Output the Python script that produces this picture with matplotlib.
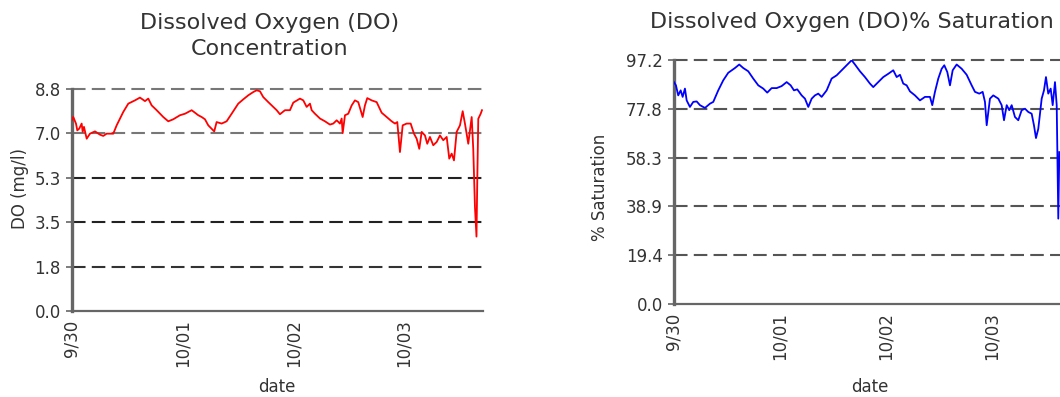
import matplotlib
matplotlib.use('Agg')
import matplotlib.pyplot as plt

# hours since 9/30 00:00, DO concentration (mg/l)
do_hours = [0, 0.28, 0.87, 1.15, 1.58, 2.10, 2.32, 2.60, 3.19, 3.90, 4.99, 6.07, 6.79, 7.52, 8.95,
            9.69, 11.12, 12.21, 13.66, 14.74, 15.83, 16.54, 17.28, 18.36, 19.79, 20.88, 21.96,
            23.41, 24.50, 25.95, 26.67, 27.38, 28.12, 28.83, 29.55, 30.84, 31.36, 32.45, 33.53,
            34.62, 36.05, 37.14, 38.22, 39.31, 40.04, 40.76, 41.47, 42.56, 43.64, 44.38, 45.09,
            46.18, 47.26, 47.98, 49.43, 50.15, 50.88, 51.60, 51.97, 52.68, 53.77, 54.85, 55.93,
            56.65, 57.39, 58.10, 58.47, 58.69, 59.19, 59.90, 60.64, 61.35, 62.07, 63.02, 63.52,
            64.02, 64.97, 66.06, 67.14, 68.23, 69.31, 70.03, 70.53, 71.11, 71.70, 72.56, 73.43,
            74.15, 74.73, 75.30, 75.82, 76.53, 77.03, 77.61, 78.33, 79.07, 79.78, 80.50, 81.24,
            81.80, 82.32, 82.82, 83.40, 84.12, 84.71, 85.20, 85.92, 86.66, 87.00, 87.37, 87.70,
            87.87, 88.09, 88.61, 88.89]
do_mgl = [7.57, 7.69, 7.43, 7.16, 7.23, 7.43, 7.10, 7.30, 6.83, 7.03, 7.12, 6.99, 6.94, 7.03, 7.03,
          7.36, 7.89, 8.22, 8.35, 8.46, 8.32, 8.42, 8.15, 7.96, 7.69, 7.52, 7.60,
          7.76, 7.82, 7.96, 7.86, 7.76, 7.69, 7.60, 7.36, 7.12, 7.49, 7.43, 7.52,
          7.82, 8.22, 8.39, 8.55, 8.68, 8.75, 8.71, 8.48, 8.28, 8.09, 7.96, 7.80,
          7.96, 7.96, 8.26, 8.42, 8.35, 8.09, 8.22, 7.96, 7.82, 7.63, 7.52, 7.39,
          7.43, 7.56, 7.43, 7.63, 7.05, 7.76, 7.82, 8.15, 8.35, 8.28, 7.69, 8.15,
          8.44, 8.35, 8.28, 7.86, 7.69, 7.52, 7.43, 7.49, 6.30, 7.36, 7.43, 7.43,
          7.03, 6.83, 6.43, 7.10, 6.96, 6.63, 6.90, 6.57, 6.70, 6.96, 6.77, 6.90,
          6.04, 6.24, 5.97, 7.10, 7.36, 7.92, 7.43, 6.63, 7.69, 6.43, 4.12, 2.95,
          5.11, 7.62, 7.82, 7.96]

# hours since 9/30 00:00, DO % saturation
sat_hours = [0, 0.45, 0.97, 1.52, 1.97, 2.49, 2.88, 3.62, 4.37, 5.14, 5.89, 7.02, 8.15, 8.90,
             10.03, 11.16, 12.29, 13.81, 14.78, 15.69, 16.82, 17.95, 19.09, 20.22, 21.12, 22.12,
             23.25, 24.38, 25.52, 26.42, 27.17, 27.92, 28.91, 29.66, 30.41, 31.18, 31.92, 32.67,
             33.44, 34.57, 35.70, 36.84, 37.97, 39.10, 40.23, 40.98, 42.11, 43.24, 44.37, 45.12,
             46.25, 47.39, 48.52, 49.65, 50.42, 51.17, 51.91, 52.68, 53.43, 54.56, 55.69, 56.83,
             57.96, 58.48, 59.09, 59.84, 60.61, 61.20, 61.88, 62.49, 63.10, 64.00, 65.14, 66.27,
             67.40, 68.15, 69.12, 69.89, 70.41, 70.80, 71.54, 72.29, 73.43, 74.19, 74.72, 75.33,
             75.91, 76.46, 77.20, 77.95, 78.72, 79.47, 80.21, 80.98, 81.50, 81.96, 82.48, 83.25,
             83.77, 84.22, 84.74, 85.29, 85.74, 86.26, 86.65, 87.01, 87.24]
sat_pct = [88.4, 87.1, 83.1, 85.1, 82.5, 85.8, 81.1, 78.5, 80.5, 80.7, 79.2, 78.1, 79.8, 80.5,
           85.1, 89.1, 92.1, 94.0, 95.4, 94.0, 92.7, 89.8, 87.1, 85.8, 84.2, 86.0,
           86.0, 86.8, 88.4, 87.1, 85.1, 85.5, 83.1, 81.8, 78.5, 81.8, 83.1, 83.8,
           82.5, 85.1, 89.8, 91.1, 93.1, 95.1, 97.1, 95.4, 92.7, 90.4, 87.8, 86.4,
           88.4, 90.4, 91.7, 93.1, 90.4, 91.3, 87.8, 87.1, 84.7, 83.1, 81.1, 82.5,
           82.5, 79.2, 84.5, 89.8, 93.7, 95.1, 92.4, 87.1, 93.1, 95.4, 93.7, 91.3,
           87.1, 84.5, 83.8, 84.5, 80.5, 71.2, 81.8, 83.1, 81.8, 79.2, 73.2, 79.2,
           77.2, 79.2, 74.5, 73.2, 77.2, 77.8, 76.5, 75.8, 71.2, 66.1, 69.8, 81.8,
           85.1, 90.4, 83.8, 85.8, 79.2, 88.4, 79.2, 34.0, 60.5]

date_ticks = [0, 24, 48, 72]
date_labels = ['9/30', '10/01', '10/02', '10/03']
do_ticks = [0.0, 1.76, 3.52, 5.28, 7.04, 8.8]
sat_ticks = [0.0, 19.44, 38.88, 58.32, 77.76, 97.2]

plt.rcParams['font.family'] = ['DejaVu Sans']
fig = plt.figure(figsize=(10.6, 3.97), dpi=100)

ax1 = fig.add_axes([0.0679, 0.2166, 0.3877, 0.5592])
ax2 = fig.add_axes([0.6358, 0.2343, 0.3713, 0.6146])


def style_axis(ax, yticks, grid_colors):
    ax.set_xlim(0, 89.1)
    ax.set_ylim(0, yticks[-1])
    for t, c in zip(yticks[1:], grid_colors):
        ax.axhline(t, color=c, lw=1.5, dashes=(6.5, 3), clip_on=False, zorder=1)
    ax.set_yticks(yticks)
    ax.set_yticklabels(['%.1f' % t for t in yticks])
    ax.set_xticks(date_ticks)
    ax.set_xticklabels(date_labels, rotation=90, va='top')
    ax.tick_params(axis='y', length=4, width=1.2, color='#666666', labelsize=12,
                   labelcolor='#333333', pad=4)
    ax.tick_params(axis='x', length=0, labelsize=12, labelcolor='#333333', pad=6)
    for s in ['top', 'right']:
        ax.spines[s].set_visible(False)
    ax.spines['left'].set_color('#666666')
    ax.spines['left'].set_linewidth(2.4)
    ax.spines['bottom'].set_color('#666666')
    ax.spines['bottom'].set_linewidth(1.6)


style_axis(ax1, do_ticks, ['#333333', '#222222', '#222222', '#777777', '#777777'])
style_axis(ax2, sat_ticks, ['#555555'] * 5)

ax1.plot(do_hours, do_mgl, color='#ff0000', lw=1.3, zorder=3)
ax2.plot(sat_hours, sat_pct, color='#0000ff', lw=1.3, zorder=3)

# titles and labels
fig.text(0.2547, 0.909, 'Dissolved Oxygen (DO)\nConcentration', ha='center', va='center',
         fontsize=16, color='#333333', linespacing=1.35)
fig.text(0.8038, 0.9453, 'Dissolved Oxygen (DO)% Saturation', ha='center', va='center',
         fontsize=16, color='#333333')
fig.text(0.0189, 0.5264, 'DO (mg/l)', rotation=90, ha='center', va='center', fontsize=12,
         color='#333333')
fig.text(0.566, 0.529, '% Saturation', rotation=90, ha='center', va='center', fontsize=12,
         color='#333333')
fig.text(0.2613, 0.0252, 'date', ha='center', va='center', fontsize=12, color='#333333')
fig.text(0.8208, 0.0252, 'date', ha='center', va='center', fontsize=12, color='#333333')

plt.savefig('out.png', dpi=100)
